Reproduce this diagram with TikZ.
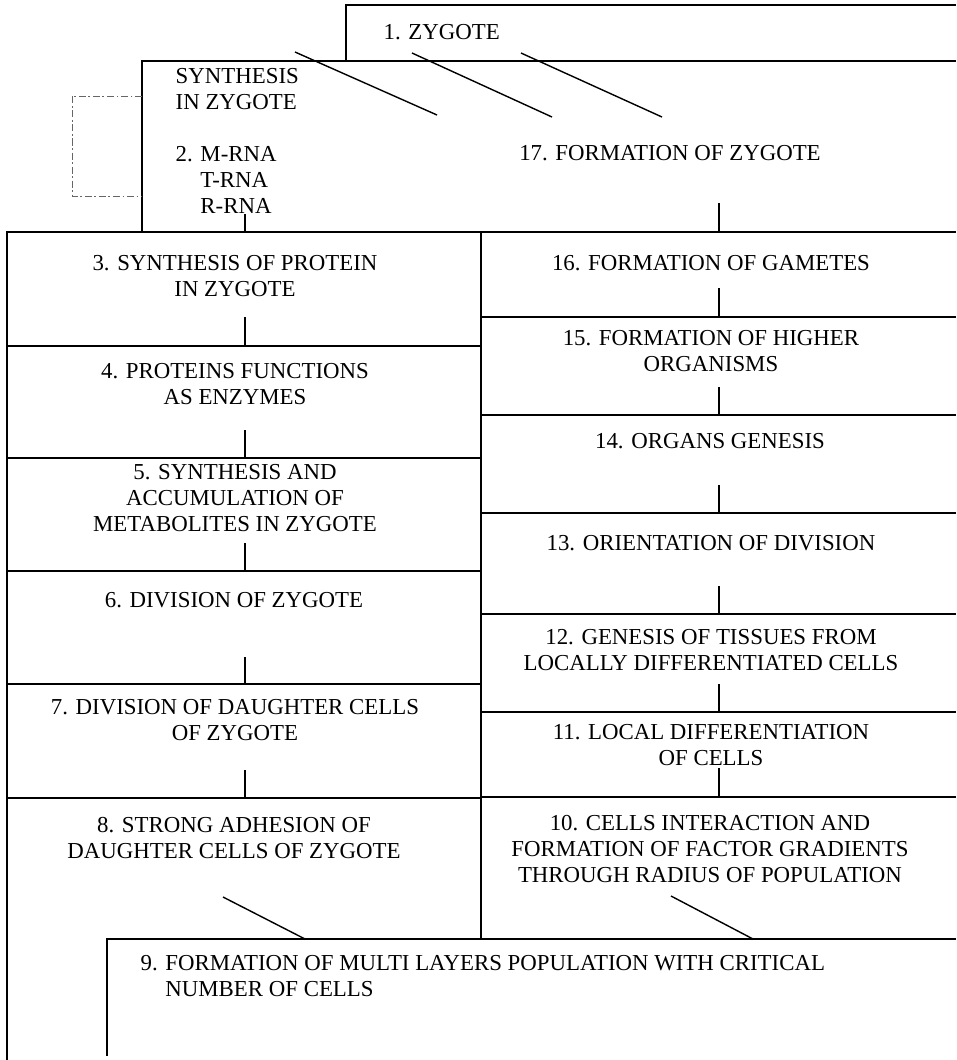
\documentclass[tikz,border=0pt]{standalone}
\usepackage{fontspec}
\setmainfont{Liberation Serif}
\newcommand\diafont{\fontsize{13}{14.8}\selectfont}

\begin{document}
\begin{tikzpicture}[x=0.2mm, y=-0.2mm, line width=0.8pt,
		lbl/.style={font=\diafont, align=center, inner sep=0pt},
		lbll/.style={font=\diafont, align=left, inner sep=0pt, anchor=west},
		bracket/.style={line width=0.4pt, color=black!60, dash pattern=on 4pt off 1.5pt on 1pt off 1.5pt}]
	%%%%% START %%%%%
	\useasboundingbox (0,0) rectangle (956,1060);

	% zygote and synthesis boxes
	\draw (346,61) -- (346,5) -- (956,5);
	\draw (142,232) -- (142,61) -- (956,61);
	\draw[bracket] (142,96) -- (72,96) -- (72,196) -- (142,196);

	% two columns
	\draw (7,1060) -- (7,232) -- (956,232);
	\draw (481,232) -- (481,939);
	\draw (7,346) -- (481,346);
	\draw (7,458) -- (481,458);
	\draw (7,571) -- (481,571);
	\draw (7,684) -- (481,684);
	\draw (7,798) -- (481,798);
	\draw (481,317) -- (956,317);
	\draw (481,415) -- (956,415);
	\draw (481,513) -- (956,513);
	\draw (481,614) -- (956,614);
	\draw (481,712) -- (956,712);
	\draw (481,797) -- (956,797);

	% population box
	\draw (107,1056) -- (107,939) -- (956,939);

	% texts
	\node[lbll] (zyg) at (383,32) {1. ZYGOTE};
	\node[lbll] (syn) at (175,141) {SYNTHESIS\\IN ZYGOTE\\[14.8pt]2. M-RNA\\\phantom{2. }T-RNA\\\phantom{2. }R-RNA};
	\node[lbl] (fz) at (670,153) {17. FORMATION OF ZYGOTE};
	\node[lbl] (prot) at (235,276) {3. SYNTHESIS OF PROTEIN\\IN ZYGOTE};
	\node[lbl] (enz) at (235,384) {4. PROTEINS FUNCTIONS\\AS ENZYMES};
	\node[lbl] (met) at (235,498) {5. SYNTHESIS AND\\ACCUMULATION OF\\METABOLITES IN ZYGOTE};
	\node[lbl] (div) at (234,600) {6. DIVISION OF ZYGOTE};
	\node[lbl] (dau) at (235,720) {7. DIVISION OF DAUGHTER CELLS\\OF ZYGOTE};
	\node[lbl] (adh) at (234,838) {8. STRONG ADHESION OF\\DAUGHTER CELLS OF ZYGOTE};
	\node[lbll] (pop) at (140,976) {9. FORMATION OF MULTI LAYERS POPULATION WITH CRITICAL\\\phantom{9. }NUMBER OF CELLS};
	\node[lbl] (grad) at (710,849) {10. CELLS INTERACTION AND\\FORMATION OF FACTOR GRADIENTS\\THROUGH RADIUS OF POPULATION};
	\node[lbl] (loc) at (711,745) {11. LOCAL DIFFERENTIATION\\OF CELLS};
	\node[lbl] (tis) at (711,650) {12. GENESIS OF TISSUES FROM\\LOCALLY DIFFERENTIATED CELLS};
	\node[lbl] (ori) at (711,543) {13. ORIENTATION OF DIVISION};
	\node[lbl] (org) at (710,441) {14. ORGANS GENESIS};
	\node[lbl] (high) at (711,351) {15. FORMATION OF HIGHER\\ORGANISMS};
	\node[lbl] (gam) at (711,263) {16. FORMATION OF GAMETES};

	% ticks
	\coordinate (s2) at (245,214); \coordinate (e2) at (245,232);
	\coordinate (s3) at (245,317); \coordinate (e3) at (245,346);
	\coordinate (s4) at (245,430); \coordinate (e4) at (245,458);
	\coordinate (s5) at (245,543); \coordinate (e5) at (245,571);
	\coordinate (s6) at (245,657); \coordinate (e6) at (245,684);
	\coordinate (s7) at (245,770); \coordinate (e7) at (245,798);
	\coordinate (s17) at (719,203); \coordinate (e17) at (719,232);
	\coordinate (s16) at (719,288); \coordinate (e16) at (719,317);
	\coordinate (s15) at (719,387); \coordinate (e15) at (719,415);
	\coordinate (s14) at (719,485); \coordinate (e14) at (719,513);
	\coordinate (s13) at (719,586); \coordinate (e13) at (719,614);
	\coordinate (s12) at (719,684); \coordinate (e12) at (719,712);
	\coordinate (s11) at (719,768); \coordinate (e11) at (719,797);
	\draw (s2) -- (e2);
	\draw (s3) -- (e3);
	\draw (s4) -- (e4);
	\draw (s5) -- (e5);
	\draw (s6) -- (e6);
	\draw (s7) -- (e7);
	\draw (s17) -- (e17);
	\draw (s16) -- (e16);
	\draw (s15) -- (e15);
	\draw (s14) -- (e14);
	\draw (s13) -- (e13);
	\draw (s12) -- (e12);
	\draw (s11) -- (e11);

	% slanted strokes
	\coordinate (sa) at (295,52); \coordinate (ea) at (437,115);
	\coordinate (sb) at (412,53); \coordinate (eb) at (552,117);
	\coordinate (sc) at (521,53); \coordinate (ec) at (662,117);
	\coordinate (s8) at (223,897); \coordinate (e8) at (305,939);
	\coordinate (s10) at (671,896); \coordinate (e10) at (753,939);
	\draw (sa) -- (ea);
	\draw (sb) -- (eb);
	\draw (sc) -- (ec);
	\draw (s8) -- (e8);
	\draw (s10) -- (e10);
	%%%%% END %%%%%
\end{tikzpicture}
\end{document}
